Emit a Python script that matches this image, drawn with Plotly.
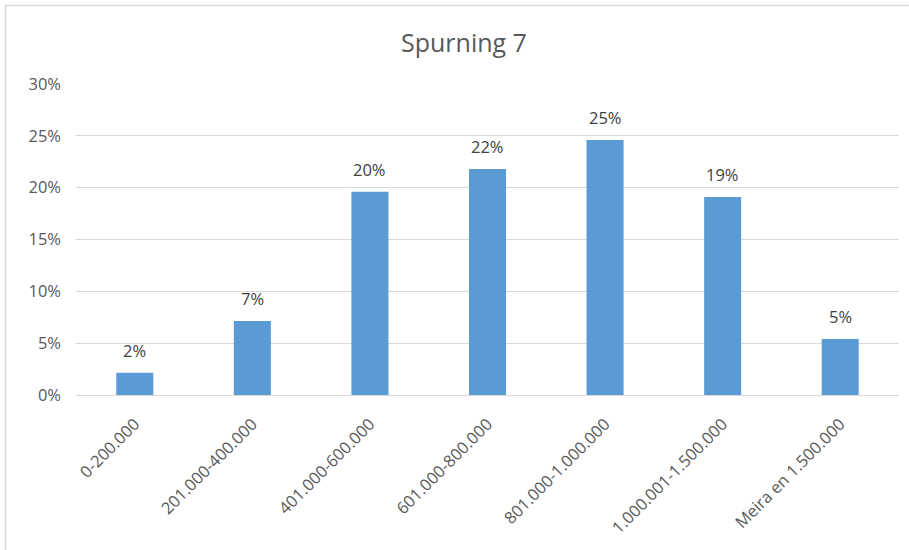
import plotly.graph_objects as go

categories = ["0-200.000", "201.000-400.000", "401.000-600.000", "601.000-800.000",
              "801.000-1.000.000", "1.000.001-1.500.000", "Meira en 1.500.000"]
values = [0.0215, 0.0714, 0.196, 0.218, 0.246, 0.191, 0.054]
tick_vals = [0, 0.05, 0.10, 0.15, 0.20, 0.25, 0.30]
tick_text = ["0%", "5%", "10%", "15%", "20%", "25%", "30%"]
title_text = "Spurning 7"

FONT = "Open Sans"
GRAY = "#595959"

fig = go.Figure()
fig.add_trace(go.Bar(x=categories, y=values, marker=dict(color="#5B9BD5", line=dict(width=0)),
                     hoverinfo="skip"))

for c, v in zip(categories, values):
    fig.add_annotation(x=c, y=v, text=f"{round(v*100)}%", showarrow=False,
                       yanchor="bottom", yshift=9,
                       font=dict(family=FONT, size=16.5, color="#404040"))

# title
fig.add_annotation(xref="paper", yref="paper", x=(464 - 76) / 823, y=1 + (84 - 42) / 311,
                   text=title_text, showarrow=False, xanchor="center", yanchor="middle",
                   font=dict(family=FONT, size=25, color=GRAY))

# chart frame
fig.add_shape(type="rect", xref="paper", yref="paper", x0=(5.5 - 76) / 823, y0=-0.7, x1=1.1,
              y1=1 + (84 - 5.5) / 311,
              line=dict(color="#d9d9d9", width=1.5), fillcolor="rgba(0,0,0,0)", layer="below")

fig.update_layout(
    width=909, height=550,
    margin=dict(l=76, r=10, t=84, b=155),
    paper_bgcolor="white", plot_bgcolor="white",
    bargap=0.685,
    showlegend=False,
    font=dict(family=FONT, color=GRAY),
    xaxis=dict(tickangle=-45, tickfont=dict(family=FONT, size=16.5, color=GRAY),
               showgrid=False, showline=True, linecolor="#d9d9d9", linewidth=1,
               ticks="", ticklabelstandoff=12),
    yaxis=dict(range=[0, 0.30], tickvals=tick_vals, ticktext=tick_text,
               tickfont=dict(family=FONT, size=16.5, color=GRAY),
               showgrid=True, gridcolor="#d9d9d9", gridwidth=1, zeroline=False,
               showline=False, ticks="", ticklabelstandoff=14),
)

fig.write_html("out.html", config={"displayModeBar": False},
               post_script="document.body.style.margin='0';")
